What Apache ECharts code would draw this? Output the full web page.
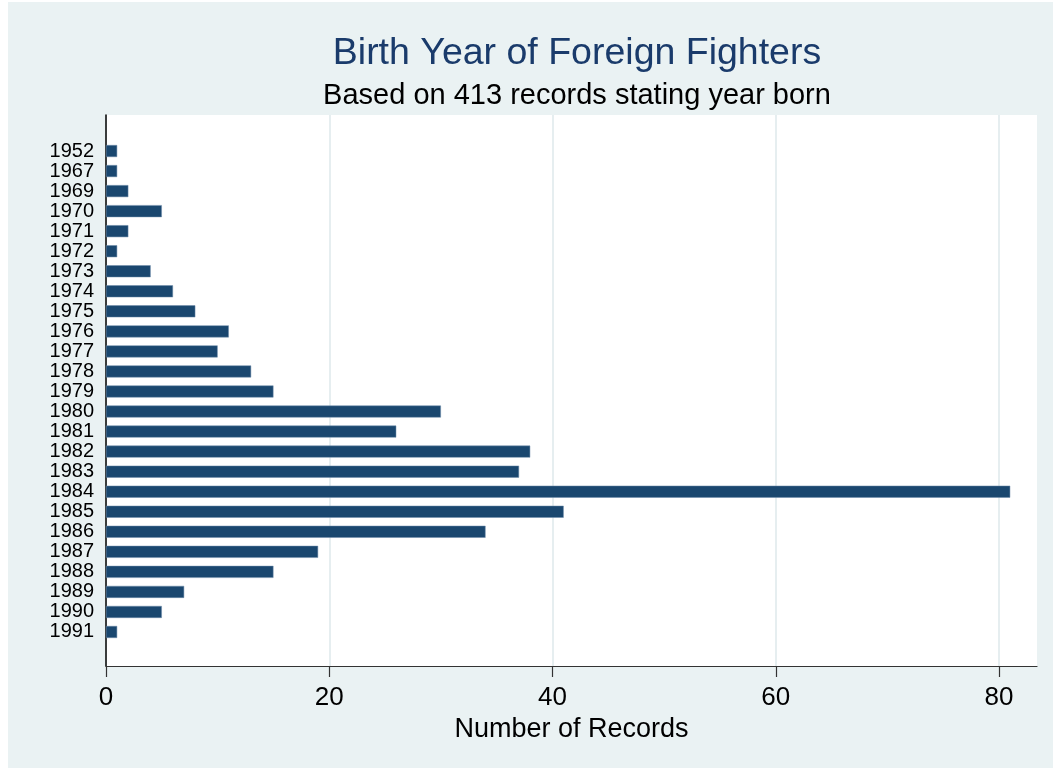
<!DOCTYPE html>
<html>
<head>
<meta charset="utf-8">
<title>Birth Year of Foreign Fighters</title>
<script src="https://cdn.jsdelivr.net/npm/echarts@6/dist/echarts.min.js"></script>
<style>
  html, body { margin: 0; padding: 0; background: #ffffff; }
  #main {
    position: absolute;
    left: 8px;
    top: 2px;
    width: 1045px;
    height: 766px;
    background: #eaf2f3;
  }
</style>
</head>
<body>
<div id="main"></div>
<script>
  // data
  var years = ['1952', '1967', '1969', '1970', '1971', '1972', '1973', '1974', '1975',
    '1976', '1977', '1978', '1979', '1980', '1981', '1982', '1983', '1984', '1985',
    '1986', '1987', '1988', '1989', '1990', '1991'];
  var records = [1, 1, 2, 5, 2, 1, 4, 6, 8, 11, 10, 13, 15, 30, 26, 38, 37, 81, 41, 34, 19, 15, 7, 5, 1];
  var xTicks = [0, 20, 40, 60, 80];
  var xMax = 83.4;

  var font = "'Liberation Sans', Arial, sans-serif";
  var chart = echarts.init(document.getElementById('main'), null, { renderer: 'canvas' });

  chart.setOption({
    backgroundColor: 'transparent',
    animation: false,
    title: [
      {
        text: 'Birth Year of Foreign Fighters',
        left: 564, top: 28, textAlign: 'center',
        textStyle: { fontFamily: font, fontSize: 37.5, fontWeight: 'normal', color: '#1a3b6b' }
      },
      {
        text: 'Based on 413 records stating year born',
        left: 564, top: 74, textAlign: 'center',
        textStyle: { fontFamily: font, fontSize: 29, fontWeight: 'normal', color: '#000' }
      }
    ],
    grid: [
      // frame: white plot region, axes and gridlines
      { left: 98, right: 16, top: 113, bottom: 102, show: true, backgroundColor: '#ffffff', borderWidth: 0 },
      // bars
      { left: 98, right: 16, top: 139, bottom: 126 }
    ],
    xAxis: [
      {
        type: 'value', gridIndex: 0, min: 0, max: xMax, interval: 20,
        name: 'Number of Records', nameLocation: 'middle', nameGap: 43,
        nameTextStyle: { fontFamily: font, fontSize: 27, color: '#000' },
        axisLine: { show: true, lineStyle: { color: '#333', width: 1.2 } },
        axisTick: { show: true, inside: false, length: 11, customValues: xTicks, lineStyle: { color: '#333', width: 1.2 } },
        axisLabel: { customValues: xTicks, fontFamily: font, fontSize: 26, color: '#000', margin: 19 },
        splitLine: { show: true, lineStyle: { color: '#e6eef0', width: 2 } }
      },
      {
        type: 'value', gridIndex: 1, min: 0, max: xMax, show: false
      }
    ],
    yAxis: [
      {
        type: 'value', gridIndex: 0, min: 0, max: 1,
        axisLine: { show: true, lineStyle: { color: '#000', width: 1.5 } },
        axisTick: { show: false }, axisLabel: { show: false }, splitLine: { show: false }
      },
      {
        type: 'category', gridIndex: 1, data: years, inverse: true,
        axisLine: { show: false }, axisTick: { show: false },
        axisLabel: { interval: 0, fontFamily: font, fontSize: 20, color: '#000', margin: 12 },
        splitLine: { show: false }
      }
    ],
    series: [
      {
        type: 'bar',
        name: 'Number of Records',
        xAxisIndex: 1, yAxisIndex: 1,
        data: records,
        barWidth: 12,
        itemStyle: { color: '#1a476f', borderColor: '#6f8dab', borderWidth: 0.5 }
      }
    ]
  });
</script>
</body>
</html>
